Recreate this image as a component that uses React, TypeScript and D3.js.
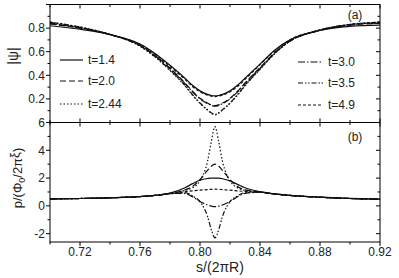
import React, { useEffect, useRef } from 'react';
import * as d3 from 'd3';

// arc-length positions along the ring, s/(2πR)
const sValues = [
  0.70, 0.72, 0.74, 0.76, 0.77, 0.78, 0.79, 0.795, 0.80, 0.805, 0.8075,
  0.81, 0.8125, 0.815, 0.82, 0.825, 0.83, 0.84, 0.85, 0.86, 0.88, 0.90, 0.92,
];

const tLabels = ['t=1.4', 't=2.0', 't=2.44', 't=3.0', 't=3.5', 't=4.9'];

// panel (a): |psi|
const psi14 = [0.82, 0.79, 0.745, 0.665, 0.585, 0.485, 0.375, 0.315, 0.268, 0.238, 0.229, 0.225, 0.229, 0.238, 0.268, 0.315, 0.375, 0.495, 0.615, 0.70, 0.78, 0.815, 0.825];
const psi20 = [0.835, 0.80, 0.745, 0.655, 0.57, 0.46, 0.335, 0.265, 0.205, 0.165, 0.15, 0.143, 0.15, 0.165, 0.205, 0.265, 0.335, 0.465, 0.595, 0.69, 0.78, 0.825, 0.84];
const psi244 = [0.85, 0.81, 0.748, 0.645, 0.555, 0.44, 0.31, 0.232, 0.162, 0.105, 0.08, 0.065, 0.08, 0.105, 0.162, 0.232, 0.31, 0.45, 0.585, 0.69, 0.785, 0.832, 0.85];
const psi30 = [0.84, 0.80, 0.745, 0.652, 0.565, 0.455, 0.33, 0.26, 0.2, 0.16, 0.145, 0.138, 0.145, 0.16, 0.2, 0.26, 0.33, 0.46, 0.59, 0.69, 0.782, 0.828, 0.843];
const psi35 = [0.845, 0.805, 0.746, 0.648, 0.558, 0.445, 0.315, 0.236, 0.165, 0.108, 0.082, 0.068, 0.082, 0.108, 0.165, 0.236, 0.315, 0.452, 0.588, 0.69, 0.784, 0.83, 0.848];
const psi49 = [0.85, 0.808, 0.746, 0.66, 0.578, 0.475, 0.365, 0.305, 0.26, 0.232, 0.224, 0.22, 0.224, 0.232, 0.26, 0.305, 0.365, 0.49, 0.61, 0.70, 0.784, 0.83, 0.852];

// panel (b): p/(Φ0/2πξ)
const p14 = [0.5, 0.53, 0.58, 0.67, 0.76, 0.92, 1.3, 1.6, 1.85, 1.97, 2.0, 2.0, 1.99, 1.95, 1.8, 1.55, 1.3, 1.02, 0.86, 0.76, 0.63, 0.54, 0.49];
const p20 = [0.5, 0.53, 0.58, 0.67, 0.75, 0.9, 1.15, 1.4, 1.9, 2.55, 2.85, 3.0, 2.85, 2.55, 1.9, 1.4, 1.15, 1.0, 0.85, 0.75, 0.62, 0.53, 0.48];
const p244 = [0.5, 0.53, 0.58, 0.67, 0.75, 0.9, 1.12, 1.3, 1.8, 3.2, 4.6, 5.7, 4.6, 3.2, 1.8, 1.3, 1.12, 1.0, 0.85, 0.75, 0.62, 0.53, 0.48];
const p30 = [0.5, 0.53, 0.58, 0.67, 0.75, 0.88, 0.9, 0.65, 0.32, 0.06, -0.02, -0.06, -0.02, 0.06, 0.32, 0.65, 0.9, 0.98, 0.85, 0.75, 0.62, 0.53, 0.48];
const p35 = [0.5, 0.53, 0.58, 0.67, 0.75, 0.88, 0.95, 0.72, 0.3, -0.75, -1.7, -2.3, -1.7, -0.75, 0.3, 0.72, 0.95, 0.98, 0.85, 0.75, 0.62, 0.53, 0.48];
const p49 = [0.5, 0.53, 0.58, 0.67, 0.75, 0.88, 1.02, 1.08, 1.13, 1.17, 1.19, 1.2, 1.19, 1.17, 1.13, 1.08, 1.04, 0.98, 0.85, 0.75, 0.62, 0.53, 0.48];

const psiSeries = [psi14, psi20, psi244, psi30, psi35, psi49];
const pSeries = [p14, p20, p244, p30, p35, p49];

const xTicks = [0.72, 0.76, 0.80, 0.84, 0.88, 0.92];
const psiTicks = [0.2, 0.4, 0.6, 0.8];
const pTicks = [-2, 0, 2, 4, 6];

const dashes = ['', '6,3', '1.5,2', '7,2,1.5,2', '5,2,1.5,1.5,1.5,2', '3,2'];

export default function App() {
  const svgRef = useRef<SVGSVGElement>(null);

  useEffect(() => {
    if (!svgRef.current) return;
    const svg = d3.select(svgRef.current);
    svg.selectAll('*').remove();

    const left = 50, right = 380, top = 4.5, mid = 122.5, bottom = 242;
    const font = 'Liberation Sans, Arial, sans-serif';

    const x = d3.scaleLinear().domain([0.70, 0.92]).range([left, right]);
    const yA = d3.scaleLinear().domain([0, 1.0]).range([mid, top]);
    const yB = d3.scaleLinear().domain([-2.6, 6]).range([bottom, mid]);

    const g = svg.append('g');

    // curves
    const drawPanel = (series: number[][], y: d3.ScaleLinear<number, number>, clipId: string, y0: number, y1: number) => {
      svg.append('defs').append('clipPath').attr('id', clipId)
        .append('rect').attr('x', left).attr('y', y0).attr('width', right - left).attr('height', y1 - y0);
      const line = d3.line<number>()
        .x((_, i) => x(sValues[i]))
        .y(d => y(d))
        .curve(d3.curveMonotoneX);
      series.forEach((vals, k) => {
        g.append('path')
          .attr('d', line(vals) as string)
          .attr('fill', 'none')
          .attr('stroke', '#111')
          .attr('stroke-width', 1.2)
          .attr('stroke-dasharray', dashes[k])
          .attr('clip-path', `url(#${clipId})`);
      });
    };
    drawPanel(psiSeries, yA, 'clipA', top, mid);
    drawPanel(pSeries, yB, 'clipB', mid, bottom);

    // frames
    g.append('rect').attr('x', left).attr('y', top).attr('width', right - left).attr('height', bottom - top)
      .attr('fill', 'none').attr('stroke', '#000').attr('stroke-width', 1);
    g.append('line').attr('x1', left).attr('x2', right).attr('y1', mid).attr('y2', mid)
      .attr('stroke', '#000').attr('stroke-width', 1);

    const tick = (x1: number, y1: number, x2: number, y2: number) =>
      g.append('line').attr('x1', x1).attr('y1', y1).attr('x2', x2).attr('y2', y2)
        .attr('stroke', '#000').attr('stroke-width', 1);

    // x ticks: every 0.02, major every 0.04
    d3.range(0, 12).forEach(i => {
      const v = 0.70 + i * 0.02;
      const px = x(v);
      const len = i % 2 === 1 ? 4 : 2.5;
      tick(px, top, px, top + len);
      tick(px, mid, px, mid - len);
      tick(px, mid, px, mid + len);
      tick(px, bottom, px, bottom + len);
    });

    // y ticks panel a
    d3.range(0, 11).forEach(i => {
      const v = i * 0.1;
      const py = yA(v);
      const len = i % 2 === 0 ? 4 : 2.5;
      tick(left - len, py, left, py);
      tick(right - len, py, right, py);
    });
    // y ticks panel b
    d3.range(-2, 7).forEach(v => {
      const py = yB(v);
      const len = v % 2 === 0 ? 4 : 2.5;
      tick(left - len, py, left, py);
      tick(right - len, py, right, py);
    });

    // tick labels
    xTicks.forEach(v => {
      g.append('text').attr('x', x(v)).attr('y', 256).attr('text-anchor', 'middle')
        .attr('font-family', font).attr('font-size', 12).attr('fill', '#222').text(v.toFixed(2));
    });
    psiTicks.forEach(v => {
      g.append('text').attr('x', 45).attr('y', yA(v) + 4.3).attr('text-anchor', 'end')
        .attr('font-family', font).attr('font-size', 12).attr('fill', '#222').text(v.toFixed(1));
    });
    pTicks.forEach(v => {
      g.append('text').attr('x', 45).attr('y', yB(v) + 4.3).attr('text-anchor', 'end')
        .attr('font-family', font).attr('font-size', 12).attr('fill', '#222').text(String(v));
    });

    // axis titles
    g.append('text').attr('x', 220).attr('y', 272).attr('text-anchor', 'middle')
      .attr('font-family', font).attr('font-size', 14).attr('fill', '#222').text('s/(2πR)');

    g.append('text').attr('transform', 'translate(18,56) rotate(-90)').attr('text-anchor', 'middle')
      .attr('font-family', font).attr('font-size', 14).attr('fill', '#222').text('|ψ|');

    const pl = g.append('text').attr('transform', 'translate(22,178) rotate(-90)').attr('text-anchor', 'middle')
      .attr('font-family', font).attr('font-size', 13).attr('fill', '#222');
    pl.append('tspan').text('p/(Φ');
    pl.append('tspan').attr('font-size', 9).attr('dy', 3).text('0');
    pl.append('tspan').attr('dy', -3).text('/2π');
    pl.append('tspan').attr('dy', -3).text('ξ');
    pl.append('tspan').attr('dy', 3).text(')');

    // panel labels
    g.append('text').attr('x', 355).attr('y', 19).attr('text-anchor', 'middle')
      .attr('font-family', font).attr('font-size', 12).attr('fill', '#222').text('(a)');
    g.append('text').attr('x', 355).attr('y', 141).attr('text-anchor', 'middle')
      .attr('font-family', font).attr('font-size', 12).attr('fill', '#222').text('(b)');

    // legends
    const legendPos = [
      { x1: 60, x2: 83, tx: 88, y: 60 },
      { x1: 60, x2: 83, tx: 88, y: 81 },
      { x1: 60, x2: 83, tx: 88, y: 104 },
      { x1: 298, x2: 323, tx: 328, y: 62 },
      { x1: 298, x2: 323, tx: 328, y: 83 },
      { x1: 298, x2: 323, tx: 328, y: 105 },
    ];
    tLabels.forEach((lab, k) => {
      const p = legendPos[k];
      g.append('line').attr('x1', p.x1).attr('x2', p.x2).attr('y1', p.y).attr('y2', p.y)
        .attr('stroke', '#111').attr('stroke-width', 1.2).attr('stroke-dasharray', dashes[k]);
      g.append('text').attr('x', p.tx).attr('y', p.y + 4.3)
        .attr('font-family', font).attr('font-size', 12).attr('fill', '#222').text(lab);
    });
  }, []);

  return (
    <svg ref={svgRef} width={399} height={278}
      style={{ position: 'absolute', left: 0, top: 0, background: '#fff' }} />
  );
}
